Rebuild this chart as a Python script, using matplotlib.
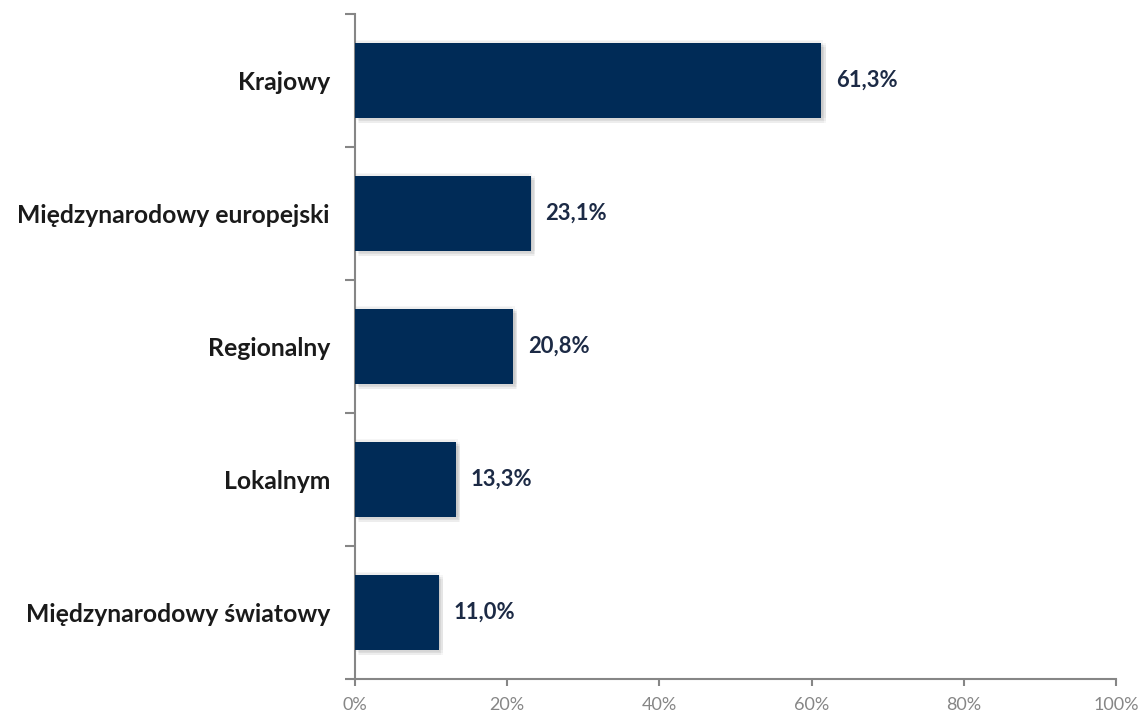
import matplotlib
matplotlib.use("Agg")
import matplotlib.pyplot as plt
import matplotlib.patheffects as pe
from matplotlib.ticker import FuncFormatter

# Chart data
categories = ["Krajowy", "Międzynarodowy europejski", "Regionalny", "Lokalnym", "Międzynarodowy światowy"]
values = [61.3, 23.1, 20.8, 13.3, 11.0]
xticks = [0, 20, 40, 60, 80, 100]

BAR_COLOR = "#002B57"
LABEL_COLOR = "#1C2A45"
AXIS_COLOR = "#868686"

plt.rcParams["font.family"] = ["Lato", "DejaVu Sans"]

fig = plt.figure(figsize=(11.44, 7.15), dpi=100)
ax = fig.add_axes([0.3103, 0.0503, 0.6652, 0.9301])

y = list(range(len(categories)))[::-1]
bars = ax.barh(y, values, height=0.57, color=BAR_COLOR, zorder=3)

# soft shadow: a few faint offset copies around each bar
shadow = []
for dx, dy in [(3, -3), (2, -3), (3, -2), (2, -2), (1, -1), (-1, 1), (1, 2), (3, 0)]:
    shadow.append(pe.SimplePatchShadow(offset=(dx, dy), shadow_rgbFace="#808080", alpha=0.07))
for b in bars:
    b.set_path_effects(shadow + [pe.Normal()])

for yi, v in zip(y, values):
    ax.text(v + 1.9, yi, f"{v:.1f}%".replace(".", ","), va="center", ha="left",
            fontsize=15.8, fontweight="bold", color=LABEL_COLOR)

ax.set_xlim(0, 100)
ax.set_ylim(-0.5, len(categories) - 0.5)
ax.set_xticks(xticks)
ax.xaxis.set_major_formatter(FuncFormatter(lambda x, _: f"{x:.0f}%"))
ax.set_yticks(y)
ax.set_yticklabels(categories, fontsize=17.8, fontweight="bold", color="#1a1a1a")
ax.set_yticks([i - 0.5 for i in range(len(categories) + 1)], minor=True)

ax.tick_params(axis="y", which="major", length=0, pad=18)
ax.tick_params(axis="y", which="minor", length=7, width=1.5, color=AXIS_COLOR)
ax.tick_params(axis="x", length=5, width=1.5, color=AXIS_COLOR, labelcolor=AXIS_COLOR,
               labelsize=13, pad=8)

for s in ["top", "right"]:
    ax.spines[s].set_visible(False)
for s in ["left", "bottom"]:
    ax.spines[s].set_color(AXIS_COLOR)
    ax.spines[s].set_linewidth(1.5)

fig.savefig("out.png", dpi=100)
